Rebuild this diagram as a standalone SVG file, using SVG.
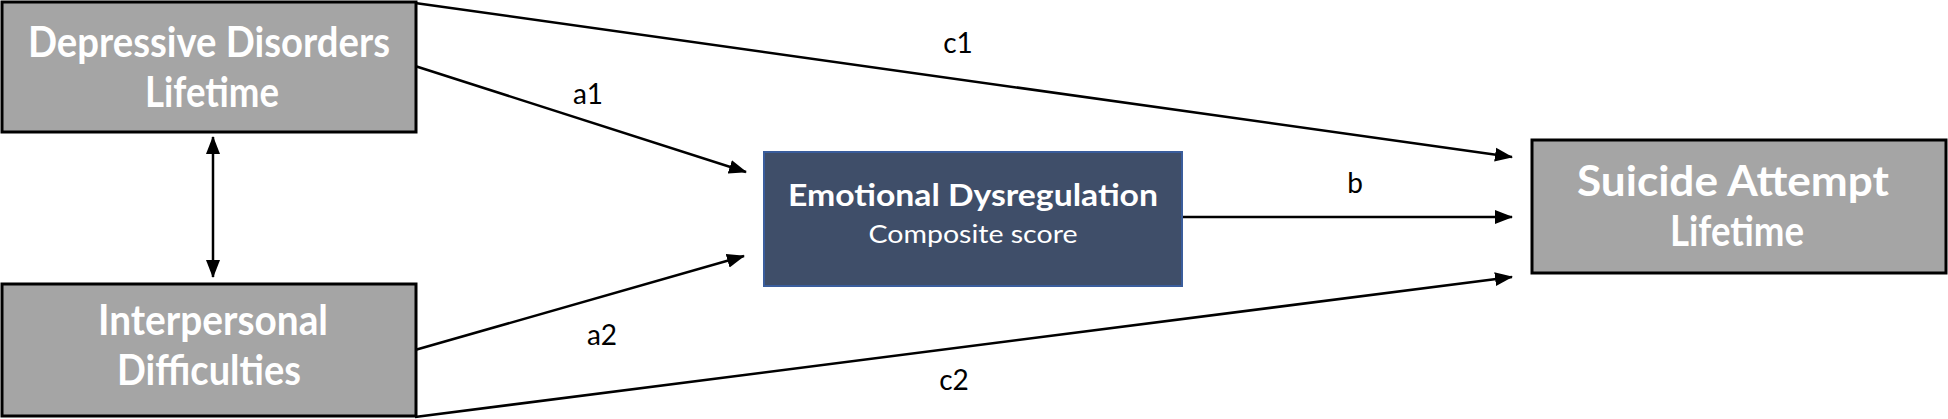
<svg xmlns="http://www.w3.org/2000/svg" width="1948" height="419" viewBox="0 0 1948 419">
<style>
.gray{fill:#a5a5a5;stroke:#000;stroke-width:3}
.blue{fill:#3f4e69;stroke:#3a5d9c;stroke-width:2}
.bt{font-family:Lato,"Liberation Sans",sans-serif;font-weight:bold;fill:#fff;text-anchor:middle}
.lab{font-family:Lato,"Liberation Sans",sans-serif;font-size:28px;fill:#000;text-anchor:middle}
.ln{stroke:#000;stroke-width:2.5;fill:none;marker-end:url(#ah)}
</style>
<defs>
<marker id="ah" markerUnits="userSpaceOnUse" markerWidth="18" markerHeight="16" refX="17" refY="7" orient="auto-start-reverse" viewBox="0 0 18 14">
<path d="M0,0 L18,7 L0,14 z" fill="#000"/>
</marker>
</defs>
<g id="connectors">
<line class="ln" x1="415" y1="3" x2="1512" y2="157"/>
<line class="ln" x1="415" y1="66" x2="746" y2="172"/>
<line class="ln" x1="415" y1="350" x2="744" y2="256"/>
<line class="ln" x1="415" y1="417" x2="1512" y2="277"/>
<line class="ln" x1="1182" y1="217" x2="1512" y2="217"/>
<line class="ln" x1="213" y1="137" x2="213" y2="277" style="marker-start:url(#ah)"/>
<text class="lab" x="958" y="53">c1</text>
<text class="lab" x="588" y="104">a1</text>
<text class="lab" x="1355" y="193">b</text>
<text class="lab" x="602" y="345">a2</text>
<text class="lab" x="954" y="390">c2</text>
</g>
<g id="depressive">
<rect class="gray" x="2" y="2" width="414" height="130"/>
<text class="bt" x="209" y="57" font-size="42" textLength="362" lengthAdjust="spacingAndGlyphs">Depressive Disorders</text>
<text class="bt" x="212" y="107" font-size="42" textLength="134" lengthAdjust="spacingAndGlyphs">Lifetime</text>
</g>
<g id="interpersonal">
<rect class="gray" x="2" y="284" width="414" height="132"/>
<text class="bt" x="213" y="335" font-size="42" textLength="230" lengthAdjust="spacingAndGlyphs">Interpersonal</text>
<text class="bt" x="209" y="385" font-size="42" textLength="184" lengthAdjust="spacingAndGlyphs">Difficulties</text>
</g>
<g id="emotional">
<rect class="blue" x="764" y="152" width="418" height="134"/>
<text class="bt" x="973" y="206" font-size="31" textLength="370" lengthAdjust="spacingAndGlyphs">Emotional Dysregulation</text>
<text x="973" y="243" font-size="25" textLength="209" lengthAdjust="spacingAndGlyphs" style="font-family:Lato,'Liberation Sans',sans-serif;fill:#fff;text-anchor:middle">Composite score</text>
</g>
<g id="suicide">
<rect class="gray" x="1532" y="140" width="414" height="133"/>
<text class="bt" x="1733" y="196" font-size="42" textLength="312" lengthAdjust="spacingAndGlyphs">Suicide Attempt</text>
<text class="bt" x="1737" y="246" font-size="42" textLength="134" lengthAdjust="spacingAndGlyphs">Lifetime</text>
</g>
</svg>
